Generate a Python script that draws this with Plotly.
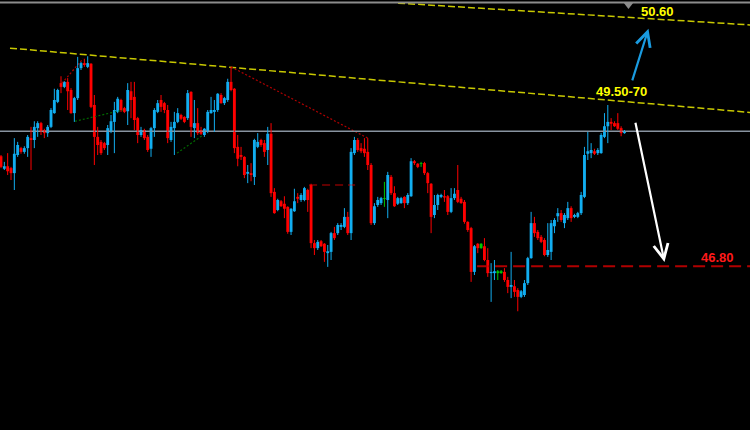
import plotly.graph_objects as go

# ---- OHLC data (bar index 1..188) ----
opens = [48.56,48.36,48.40,48.37,48.29,48.58,48.69,48.63,48.69,48.85,
         48.82,49.01,49.09,48.98,48.93,49.03,49.25,49.43,49.73,49.67,
         49.75,49.62,49.25,49.49,49.97,50.05,49.99,50.04,49.38,48.87,
         48.79,48.77,48.74,48.95,49.11,49.27,49.46,49.33,49.28,49.60,
         49.51,49.17,48.90,48.98,48.87,48.68,49.01,49.27,49.46,49.41,
         49.30,48.82,49.01,49.11,49.22,49.19,49.17,49.59,49.01,49.09,
         48.98,48.90,48.95,49.25,49.27,49.30,49.54,49.41,49.46,49.75,
         49.64,48.71,48.58,48.55,48.28,48.29,48.23,48.71,48.82,48.77,
         48.66,48.92,47.99,47.70,47.84,47.80,47.75,47.35,47.68,47.91,
         47.86,47.86,48.02,48.10,47.17,47.09,47.20,47.16,47.01,47.03,
         47.33,47.33,47.43,47.43,47.59,47.33,48.61,48.82,48.69,48.68,
         48.63,48.42,47.49,47.78,47.81,47.88,47.86,48.23,47.97,47.80,
         47.81,47.91,47.81,47.92,48.48,48.44,48.44,48.45,48.29,48.12,
         47.62,47.78,47.91,47.92,47.92,47.67,47.89,48.02,47.88,47.83,
         47.51,47.41,46.71,47.16,47.09,47.12,46.90,46.69,46.69,46.69,
         46.69,46.71,46.58,46.47,46.48,46.42,46.31,46.34,46.53,46.93,
         47.49,47.35,47.27,47.22,46.98,47.03,47.44,47.60,47.65,47.49,
         47.57,47.73,47.59,47.59,47.65,47.91,48.60,48.61,48.64,48.61,
         48.61,48.87,49.04,49.11,49.09,49.09,49.01,48.93]
highs = [48.58,48.47,48.61,48.39,48.85,48.79,48.71,48.72,48.90,49.03,
         49.12,49.12,49.11,49.00,49.06,49.33,49.64,49.64,49.84,49.76,
         49.81,49.65,49.51,50.15,50.07,50.12,50.16,50.05,49.54,49.03,
         48.82,48.79,49.06,49.22,49.43,49.51,49.48,49.35,49.73,49.75,
         49.75,49.19,49.03,49.00,48.90,49.03,49.33,49.46,49.54,49.43,
         49.38,49.11,49.27,49.33,49.24,49.20,49.62,49.60,49.46,49.33,
         49.03,49.01,49.30,49.51,49.46,49.57,49.57,49.51,49.80,49.99,
         49.65,48.90,48.71,48.56,48.42,48.45,48.84,48.93,48.84,48.82,
         49.03,49.09,48.05,47.88,47.86,47.92,47.76,47.73,48.04,47.97,
         47.97,48.07,48.04,48.12,47.22,47.22,47.22,47.17,47.14,47.35,
         47.43,47.49,47.49,47.73,47.67,48.69,48.87,48.85,48.77,48.85,
         48.85,48.45,47.81,47.91,47.91,48.15,48.31,48.26,48.08,47.91,
         47.91,47.92,47.97,48.53,48.50,48.45,48.47,48.47,48.31,48.13,
         47.94,47.96,47.96,48.02,47.94,48.05,48.05,48.42,47.91,47.86,
         47.52,47.43,47.14,47.17,47.17,47.25,47.09,46.85,46.90,46.74,
         46.74,46.77,46.63,47.03,46.58,46.45,46.42,46.58,46.95,47.67,
         47.59,47.38,47.30,47.25,47.49,47.54,47.57,47.73,47.70,47.65,
         47.83,47.76,47.64,47.67,47.99,48.71,48.95,48.77,48.68,48.69,
         48.93,49.25,49.38,49.17,49.12,49.25,49.04,48.98]
lows = [48.37,48.34,48.26,48.18,48.02,48.55,48.60,48.60,48.55,48.34,
        48.69,48.87,48.90,48.85,48.87,49.01,49.24,49.41,49.57,49.65,
        49.30,49.24,49.11,49.46,49.94,49.99,49.97,49.33,48.42,48.58,
        48.58,48.66,48.58,48.93,48.61,49.25,49.27,49.25,49.06,49.17,
        48.98,48.77,48.87,48.82,48.63,48.55,48.87,49.25,49.27,49.25,
        48.77,48.79,48.58,49.09,49.14,49.09,49.14,48.87,48.85,48.90,
        48.90,48.87,48.93,49.24,48.95,49.27,49.40,49.38,49.43,49.60,
        48.61,48.40,48.50,48.21,48.13,48.16,48.10,48.69,48.71,48.55,
        48.42,47.91,47.64,47.68,47.75,47.57,47.32,47.30,47.67,47.81,
        47.83,47.84,47.67,47.09,46.98,47.06,47.11,46.87,46.79,46.90,
        47.22,47.30,47.38,47.41,47.30,47.22,48.58,48.63,48.61,48.55,
        48.34,47.46,47.46,47.75,47.78,47.75,47.57,47.94,47.75,47.78,
        47.80,47.73,47.78,47.91,48.42,48.37,48.39,48.26,47.97,47.33,
        47.57,47.70,47.89,47.83,47.62,47.65,47.86,47.81,47.80,47.48,
        47.35,46.55,46.66,47.01,47.08,46.88,46.63,46.23,46.58,46.58,
        46.68,46.55,46.37,46.29,46.31,46.08,46.29,46.31,46.50,46.92,
        47.27,47.22,47.17,46.96,46.95,46.90,47.33,47.51,47.51,47.41,
        47.54,47.51,47.57,47.57,47.62,47.89,48.50,48.53,48.58,48.58,
        48.60,48.85,48.77,48.98,49.03,48.98,48.88,48.92]
closes = [48.39,48.40,48.32,48.29,48.60,48.74,48.63,48.69,48.87,48.82,
          49.03,49.09,48.95,48.93,49.03,49.30,49.46,49.62,49.67,49.75,
          49.60,49.25,49.49,49.97,50.05,50.02,50.05,49.35,48.87,48.74,
          48.61,48.69,49.01,49.12,49.30,49.48,49.30,49.27,49.62,49.46,
          49.14,48.90,48.98,48.85,48.66,49.01,49.30,49.41,49.35,49.30,
          48.85,49.03,49.11,49.25,49.16,49.11,49.57,49.03,49.09,48.93,
          48.92,49.00,49.27,49.30,49.30,49.56,49.41,49.49,49.75,49.62,
          48.69,48.52,48.55,48.26,48.31,48.26,48.82,48.79,48.74,48.63,
          48.92,47.97,47.65,47.86,47.76,47.72,47.35,47.72,47.84,47.88,
          47.94,48.05,47.86,47.17,47.09,47.19,47.12,47.03,47.04,47.33,
          47.25,47.46,47.46,47.59,47.33,48.63,48.82,48.66,48.64,48.61,
          48.42,47.49,47.76,47.86,47.89,47.88,48.26,47.97,47.76,47.89,
          47.89,47.81,47.94,48.48,48.45,48.39,48.44,48.29,48.13,47.59,
          47.78,47.94,47.94,47.90,47.67,47.89,47.96,47.83,47.81,47.51,
          47.38,46.71,47.12,47.09,47.16,46.90,46.69,46.71,46.72,46.72,
          46.72,46.58,46.47,46.50,46.39,46.31,46.40,46.53,46.93,47.49,
          47.33,47.25,47.19,46.98,47.06,47.49,47.54,47.65,47.54,47.62,
          47.73,47.57,47.62,47.65,47.94,48.58,48.64,48.66,48.60,48.66,
          48.90,49.04,49.11,49.08,49.04,49.00,48.93,48.96]
bars = list(range(1, len(closes) + 1))
green_bars = [116, 127, 145, 150, 151]   # bars drawn in green

# ---- drawn objects (bar index, price) ----
lower_trend_x = [3.7, 226.0]
lower_trend_y = [50.29, 49.26]
upper_trend_x = [120.1, 226.0]
upper_trend_y = [51.01, 50.66]
red_dot1_x = [70.0, 111.0]
red_dot1_y = [49.99, 48.85]
red_dot2_x = [19.3, 25.6]
red_dot2_y = [49.73, 50.12]
green_dot1_x = [23.2, 37.6]
green_dot1_y = [49.12, 49.30]
green_dot2_x = [53.8, 61.6]
green_dot2_y = [48.61, 48.90]
short_level_x = [93.4, 107.2]
short_level = 48.10
target_low_x = [143.8, 226.0]
target_low = 46.80
label_high = "50.60"
label_mid = "49.50-70"
label_low = "46.80"
up_arrow = dict(tail=(190.2, 49.75), head=(195.2, 50.60))
down_arrow = dict(tail=(191.2, 49.12), head=(200.0, 46.87))
X_RANGE = [0.70, 225.65]
Y_RANGE = [44.18, 51.06]

BLUE = "#12AEF0"
RED = "#FF0000"
GREEN = "#00C800"
TICK = 0.012   # minimum visible body for flat bars

def kind(i):
    if bars[i] in green_bars:
        return "g"
    return "u" if closes[i] > opens[i] else "d"

colour_of = {"u": BLUE, "d": RED, "g": GREEN}

fig = go.Figure()

def seg(x, y, color, width, dash):
    fig.add_trace(go.Scatter(x=x, y=y, mode="lines",
                             line=dict(color=color, width=width, dash=dash),
                             hoverinfo="skip"))

# background drawings
seg(lower_trend_x, lower_trend_y, "#C8C800", 1.5, "7px,3px")
seg(upper_trend_x, upper_trend_y, "#C8C800", 1.5, "7px,3px")
seg(red_dot1_x, red_dot1_y, "#B00000", 1.2, "2px,2px")
seg(red_dot2_x, red_dot2_y, "#B00000", 1.2, "2px,2px")
seg(green_dot1_x, green_dot1_y, "#006A00", 1.2, "2px,2px")
seg(green_dot2_x, green_dot2_y, "#006A00", 1.2, "2px,2px")
seg(short_level_x, [short_level, short_level], "#C00000", 1.2, "8px,5px")
seg(target_low_x, [target_low, target_low], "#B00000", 1.8, "12px,6px")
seg(X_RANGE, [closes[-1], closes[-1]], "#8893A0", 1.5, "solid")

# wicks (high-low), one trace per colour
for k in ("u", "d", "g"):
    wx, wy = [], []
    for i in range(len(bars)):
        if kind(i) == k:
            wx += [bars[i], bars[i], None]
            wy += [lows[i], highs[i], None]
    fig.add_trace(go.Scatter(x=wx, y=wy, mode="lines",
                             line=dict(color=colour_of[k], width=1),
                             hoverinfo="skip"))

# bodies (open-close)
body_base = [min(o, c) for o, c in zip(opens, closes)]
body_len = [max(abs(c - o), TICK) for o, c in zip(opens, closes)]
fig.add_trace(go.Bar(x=bars, y=body_len, base=body_base, width=0.86,
                     marker=dict(color=[colour_of[kind(i)] for i in range(len(bars))],
                                 line=dict(width=0)),
                     hoverinfo="skip"))

# shift marker at the top
fig.add_trace(go.Scatter(x=[189.2], y=[50.98], mode="markers",
                         marker=dict(symbol="triangle-down", size=8, color="#8A8A8A"),
                         cliponaxis=False, hoverinfo="skip"))

font = dict(family="Liberation Sans, Arial, sans-serif", size=13)
fig.add_annotation(x=197.8, y=50.88, text="<b>%s</b>" % label_high, showarrow=False,
                   font=dict(color="#FFFF00", **font))
fig.add_annotation(x=187.1, y=49.59, text="<b>%s</b>" % label_mid, showarrow=False,
                   font=dict(color="#FFFF00", **font))
fig.add_annotation(x=215.8, y=46.94, text="<b>%s</b>" % label_low, showarrow=False,
                   font=dict(color="#FF1A1A", **font))

for arr, col in ((up_arrow, "#1A9BE0"), (down_arrow, "#FFFFFF")):
    fig.add_annotation(x=arr["head"][0], y=arr["head"][1],
                       ax=arr["tail"][0], ay=arr["tail"][1],
                       xref="x", yref="y", axref="x", ayref="y",
                       text="", showarrow=True, arrowhead=5, arrowsize=1.3,
                       arrowwidth=2.2, arrowcolor=col)

# top frame bar
fig.add_shape(type="line", xref="paper", yref="paper", x0=0, x1=1,
              y0=1 - 2.5 / 430, y1=1 - 2.5 / 430,
              line=dict(color="#8C8C8C", width=2.2), layer="above")

fig.update_layout(
    width=750, height=430, margin=dict(l=0, r=0, t=0, b=0),
    paper_bgcolor="#000000", plot_bgcolor="#000000",
    showlegend=False, barmode="overlay",
    xaxis=dict(range=X_RANGE, visible=False, showgrid=False, zeroline=False),
    yaxis=dict(range=Y_RANGE, visible=False, showgrid=False, zeroline=False),
)

fig.write_html("out.html",
               config={"displayModeBar": False, "staticPlot": True},
               post_script="document.body.style.margin='0';"
                           "document.body.style.overflow='hidden';")
